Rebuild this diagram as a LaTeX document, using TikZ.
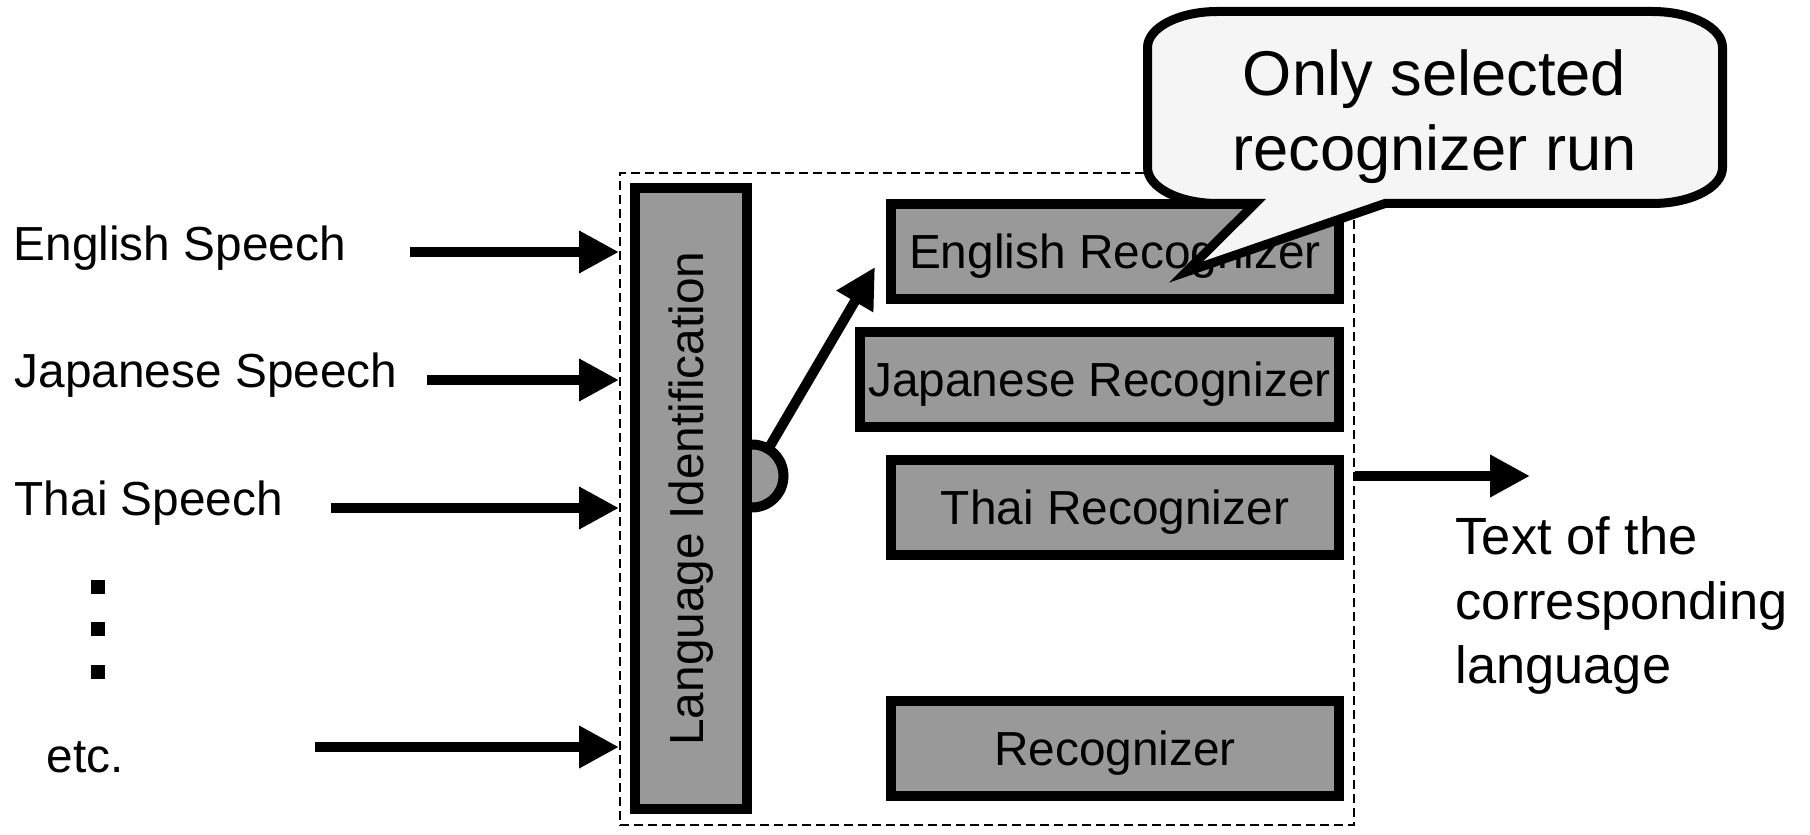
\documentclass[tikz,border=0pt]{standalone}
\usepackage{fontspec}
\setmainfont{Liberation Sans}
\usetikzlibrary{arrows.meta,calc,backgrounds}
\definecolor{boxgray}{RGB}{153,153,153}
\definecolor{notefill}{RGB}{245,245,245}
\newcommand{\lblfont}{\fontsize{13.6}{16}\selectfont}
\newcommand{\notefont}{\fontsize{18}{21.3}\selectfont}
\newcommand{\outfont}{\fontsize{14.9}{18.4}\selectfont}

\begin{document}
\begin{tikzpicture}[
		recbox/.style={draw, fill=boxgray, line width=1mm, inner sep=0pt, font=\lblfont, text depth=0pt},
		inlabel/.style={anchor=base west, inner sep=0pt, font=\lblfont},
		arr/.style={line width=1mm, -{Triangle[length=4mm,width=4mm]}},
	]
		\useasboundingbox (0,0) rectangle (18.10,8.34);
		
		\node[draw, line width=0.2mm, dash pattern=on 0.9mm off 0.5mm, inner sep=0pt,
			minimum width=7.34cm, minimum height=6.52cm] (frame) at (9.87,3.35) {};
		
		\node[inlabel] (en) at (0.13,5.73) {English Speech};
		\node[inlabel] (ja) at (0.14,4.46) {Japanese Speech};
		\node[inlabel] (th) at (0.14,3.18) {Thai Speech};
		\node[inlabel] (etc) at (0.46,0.62) {etc.};
		\foreach \y in {2.47,2.05,1.62}
			\fill (0.91,\y-0.07) rectangle ++(0.14,0.14);
		
		\coordinate (enin) at (4.10,5.82);
		\coordinate (jain) at (4.27,4.54);
		\coordinate (thaiin) at (3.31,3.26);
		\coordinate (etcin) at (3.15,0.87);
		\foreach \c in {enin,jain,thaiin,etcin}
			\draw[arr] (\c) -- (\c -| frame.west);
		
		\node[recbox, minimum width=1.12cm, minimum height=6.21cm] (lid) at (6.91,3.355) {\rotatebox{90}{Language Identification}};
		
		\node[recbox, minimum width=4.48cm, minimum height=0.95cm] (enrec) at (11.15,5.825) {English Recognizer};
		\node[recbox, minimum width=4.79cm, minimum height=0.95cm] (jarec) at (10.995,4.545) {Japanese Recognizer};
		\node[recbox, minimum width=4.48cm, minimum height=0.95cm] (threc) at (11.15,3.265) {Thai Recognizer};
		\node[recbox, minimum width=4.48cm, minimum height=0.95cm] (rec) at (11.15,0.86) {Recognizer};
		
		\coordinate (sel) at ($(lid.east)+(0,0.225)$);
		\begin{scope}[on background layer]
			\draw[line width=1mm, fill=boxgray] ($(sel)+(0,0.315)$) arc[start angle=90, end angle=-90, radius=0.315];
		\end{scope}
		\coordinate (seltip) at (8.75,5.67);
		\draw[arr] ($(sel)+(59:0.315)$) -- (seltip);
		
		\coordinate (notetip) at (11.86,5.62);
		\draw[line width=0.9mm, fill=notefill] (11.475,7.865) arc[start angle=180, end angle=90, x radius=0.7, y radius=0.36]
			-- (16.525,8.225) arc[start angle=90, end angle=0, x radius=0.7, y radius=0.36]
			-- (17.225,6.665) arc[start angle=0, end angle=-90, x radius=0.7, y radius=0.36]
			-- (13.85,6.305) -- (notetip) -- (12.55,6.305)
			-- (12.175,6.305) arc[start angle=-90, end angle=-180, x radius=0.7, y radius=0.36] -- cycle;
		\node[anchor=north, inner sep=0pt, align=center, font=\notefont] (note) at (14.345,7.85) {Only selected\\recognizer run};
		
		\coordinate (outtip) at (15.30,3.58);
		\draw[arr] (outtip -| frame.east) -- (outtip);
		\node[anchor=north west, inner sep=0pt, align=left, font=\outfont] (out) at (14.55,3.18) {Text of the\\corresponding\\language};
\end{tikzpicture}
\end{document}
